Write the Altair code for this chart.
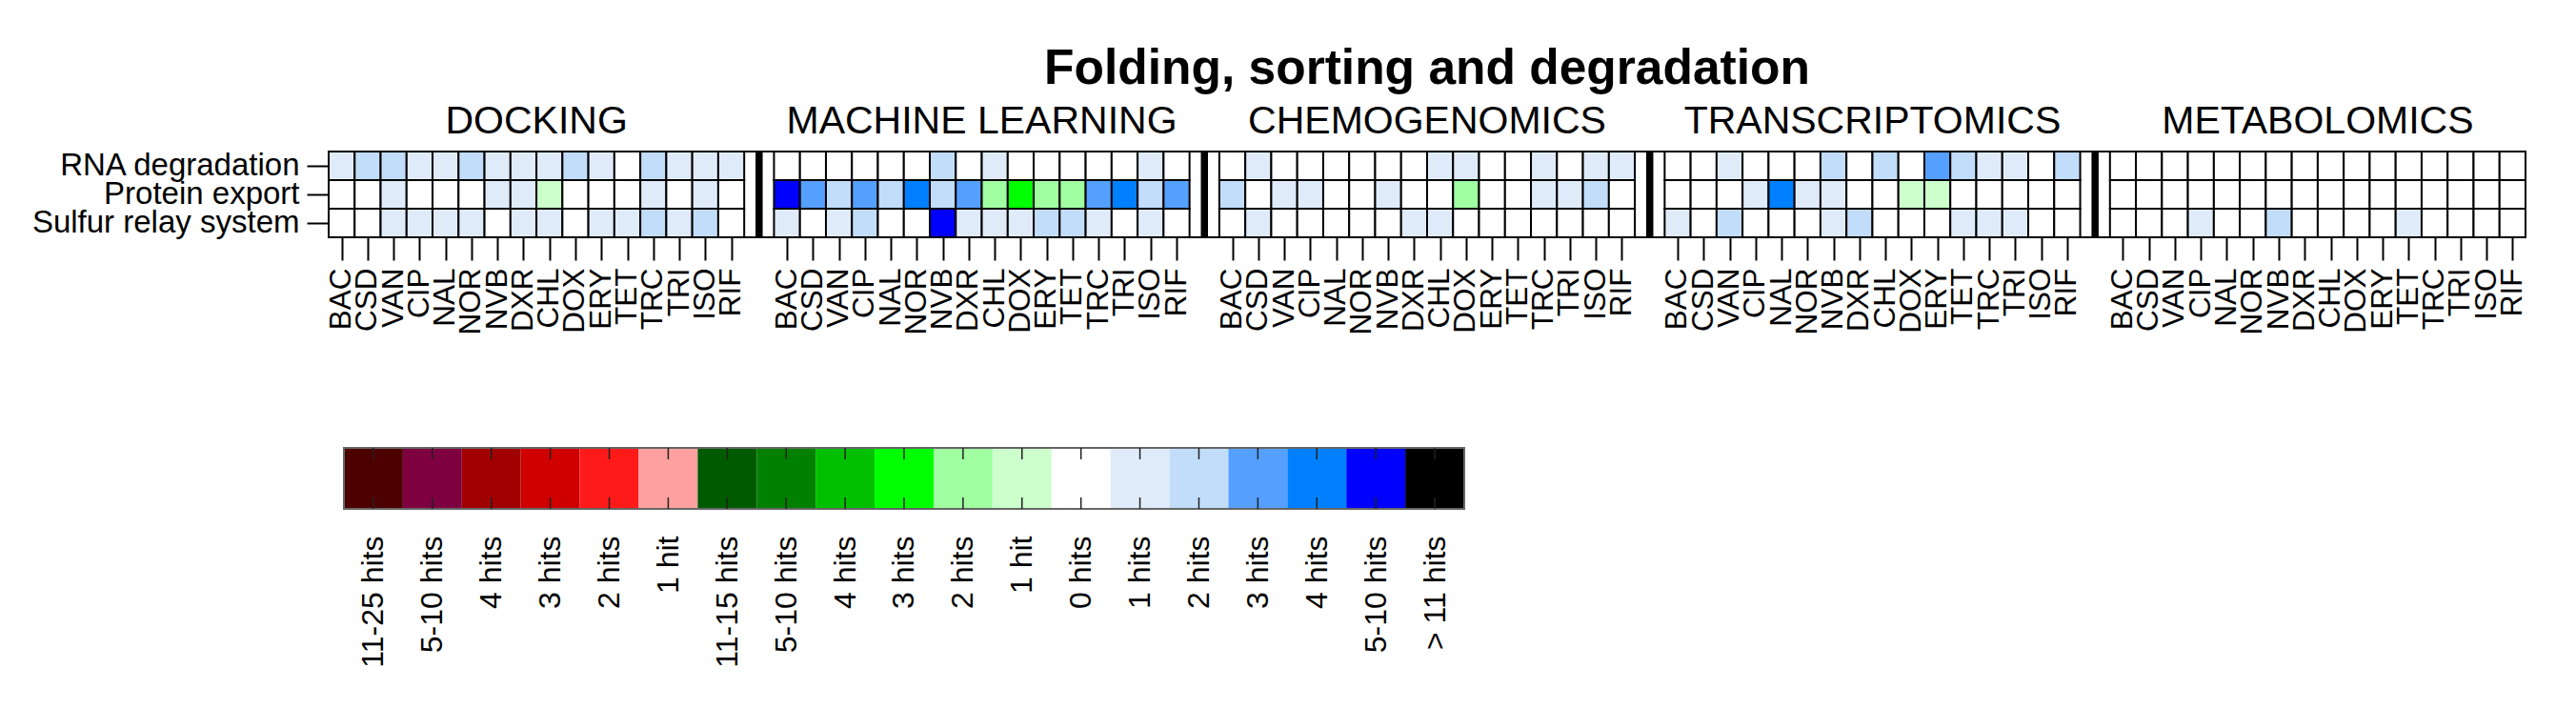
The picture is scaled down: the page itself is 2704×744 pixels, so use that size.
import altair as alt
import pandas as pd

FONT = "Liberation Sans"

drugs = ["BAC", "CSD", "VAN", "CIP", "NAL", "NOR", "NVB", "DXR",
         "CHL", "DOX", "ERY", "TET", "TRC", "TRI", "ISO", "RIF"]
pathways = ["RNA degradation", "Protein export", "Sulfur relay system"]
methods = ["DOCKING", "MACHINE LEARNING", "CHEMOGENOMICS", "TRANSCRIPTOMICS", "METABOLOMICS"]

# legend categories (code, label, colour)
legend_codes = ["R6", "R5", "R4", "R3", "R2", "R1",
                "G6", "G5", "G4", "G3", "G2", "G1",
                "W", "B1", "B2", "B3", "B4", "B5", "K"]
legend_labels = ["11-25 hits", "5-10 hits", "4 hits", "3 hits", "2 hits", "1 hit",
                 "11-15 hits", "5-10 hits", "4 hits", "3 hits", "2 hits", "1 hit",
                 "0 hits", "1 hits", "2 hits", "3 hits", "4 hits", "5-10 hits", "> 11 hits"]
legend_colors = ["#4d0000", "#7f0040", "#a00000", "#d00000", "#ff1a1a", "#ffa0a0",
                 "#005a00", "#008000", "#00c000", "#00ff00", "#a0ffa0", "#ccffcc",
                 "#ffffff", "#e0ebfa", "#c2ddfa", "#55a0ff", "#0080ff", "#0000ff", "#000000"]

# cell codes per method: rows = pathways, columns = drugs
docking = [
    "B1 B2 B2 B1 B1 B2 B1 B1 B1 B2 B1 W B2 B1 B1 B1".split(),
    "W W B1 W W W B1 B1 G1 W W W B1 W B1 W".split(),
    "W W B1 B1 B1 B1 W B1 B1 W B1 B1 B2 B1 B2 W".split(),
]
machine_learning = [
    "W W W W W W B2 W B1 W W W W W B1 W".split(),
    "B5 B3 B2 B3 B2 B4 B2 B3 G2 G3 G2 G2 B3 B4 B2 B3".split(),
    "B1 W B1 B2 W W B5 B1 B1 B1 B2 B2 B1 W B1 W".split(),
]
chemogenomics = [
    "W B1 W W W W W W B1 B1 W W B1 W B1 B1".split(),
    "B2 W B1 B1 W W B1 W W G2 W W B1 B1 B2 W".split(),
    "W B1 W W W W W B1 B1 W W W W W W W".split(),
]
transcriptomics = [
    "W W B1 W W W B2 W B2 W B3 B2 B1 B1 W B2".split(),
    "W W W B1 B4 B1 B1 W W G1 G1 W W W W W".split(),
    "B1 W B2 W W W B1 B2 W W W B1 B1 B1 W W".split(),
]
metabolomics = [
    "W W W W W W W W W W W W W W W W".split(),
    "W W W W W W W W W W W W W W W W".split(),
    "W W W B1 W W B2 W W W W B1 W W W W".split(),
]
panels = [docking, machine_learning, chemogenomics, transcriptomics, metabolomics]

# ---- layout constants ----
GAP = 1.147          # separator column width, in cell units
NC = len(drugs)
STEP = NC + GAP
XMAX = len(methods) * NC + (len(methods) - 1) * GAP

rows = []
for g, method in enumerate(methods):
    for r, pw in enumerate(pathways):
        for c, drug in enumerate(drugs):
            x0 = g * STEP + c
            rows.append({"method": method, "pathway": pw, "drug": drug,
                         "code": panels[g][r][c], "x0": x0, "x1": x0 + 1})
df = pd.DataFrame(rows)

centers = sorted(set((df["x0"] + 0.5).round(4).tolist()))
sep_df = pd.DataFrame({"sx": [g * STEP - GAP / 2 for g in range(1, len(methods))]})
title_df = pd.DataFrame({"method": methods,
                         "tx": [g * STEP + NC / 2 for g in range(len(methods))]})

color_scale = alt.Scale(domain=legend_codes, range=legend_colors)
xscale = alt.Scale(domain=[0, XMAX], nice=False, zero=False)
drug_js = "[" + ",".join("'%s'" % d for d in drugs) + "]"

xaxis = alt.Axis(values=centers,
                 labelExpr=f"{drug_js}[floor(datum.value % {STEP})]",
                 labelAngle=270, labelAlign="right", labelBaseline="middle",
                 labelFontSize=31.5, labelPadding=8, labelColor="black",
                 labelFont=FONT, tickSize=24, tickWidth=2, tickColor="black",
                 domain=False, grid=False, title=None,
                 labelFlush=False, labelOverlap=False)

cells = alt.Chart(df).mark_rect(stroke="black", strokeWidth=2).encode(
    x=alt.X("x0:Q", scale=xscale, axis=xaxis),
    x2="x1:Q",
    y=alt.Y("pathway:N", sort=pathways,
            axis=alt.Axis(title=None, labelFontSize=33, labelFont=FONT, labelColor="black",
                          labelLimit=600, tickSize=23, tickWidth=2, tickColor="black",
                          labelPadding=8, domain=False)),
    color=alt.Color("code:N", scale=color_scale, legend=None),
)

seps = alt.Chart(sep_df).mark_rule(color="black", strokeWidth=7.5).encode(
    x=alt.X("sx:Q", scale=xscale, axis=xaxis)
)

group_titles = alt.Chart(title_df).mark_text(
    fontSize=41, font=FONT, baseline="alphabetic", align="center", color="black"
).encode(
    x=alt.X("tx:Q", scale=xscale, axis=xaxis),
    y=alt.value(-19),
    text="method:N",
)

heat = alt.layer(cells, seps, group_titles).properties(
    width=2306, height=90,
    title=alt.TitleParams("Folding, sorting and degradation", fontSize=51.5,
                          fontWeight="bold", font=FONT, anchor="middle",
                          frame="group", offset=-32, baseline="alphabetic",
                          color="black"),
    view=alt.ViewBackground(stroke="black", strokeWidth=2),
)

# ---- colour bar legend ----
NL = len(legend_codes)
leg_df = pd.DataFrame({"idx": list(range(NL)), "code": legend_codes})
leg_df["idx1"] = leg_df["idx"] + 1
leg_df["mid"] = leg_df["idx"] + 0.5
outline_df = pd.DataFrame({"a": [0], "b": [NL]})

LOFF = 16 / 61.9
lscale = alt.Scale(domain=[-LOFF, NL], nice=False, zero=False)
lab_js = "[" + ",".join("'%s'" % s for s in legend_labels) + "]"

laxis = alt.Axis(values=leg_df["mid"].tolist(),
                 labelExpr=f"{lab_js}[floor(datum.value)]",
                 labelAngle=270, labelAlign="right", labelBaseline="middle",
                 labelFontSize=32, labelFont=FONT, labelColor="black",
                 labelPadding=28, ticks=False, tickSize=0, domain=False,
                 grid=False, title=None, labelFlush=False, labelOverlap=False)

leg_rect = alt.Chart(leg_df).mark_rect().encode(
    x=alt.X("idx:Q", scale=lscale, axis=laxis),
    x2="idx1:Q",
    color=alt.Color("code:N", scale=color_scale, legend=None),
)
leg_outline = alt.Chart(outline_df).mark_rect(
    fillOpacity=0, stroke="#666666", strokeWidth=2
).encode(x=alt.X("a:Q", scale=lscale, axis=laxis), x2="b:Q")
leg_ticks_top = alt.Chart(leg_df).mark_rule(color="#222222", strokeWidth=1.5).encode(
    x=alt.X("mid:Q", scale=lscale, axis=laxis), y=alt.value(0), y2=alt.value(12)
)
leg_ticks_bot = alt.Chart(leg_df).mark_rule(color="#222222", strokeWidth=1.5).encode(
    x=alt.X("mid:Q", scale=lscale, axis=laxis), y=alt.value(52), y2=alt.value(64)
)

legend = alt.layer(leg_rect, leg_outline, leg_ticks_top, leg_ticks_bot).properties(
    width=1176 + 16, height=64,
    view=alt.ViewBackground(stroke="transparent", strokeWidth=0),
)

chart = alt.vconcat(heat, legend, spacing=117).resolve_scale(x="independent").properties(
    padding={"left": 24, "top": 37, "right": 5, "bottom": 5}
).configure(font=FONT, background="white")

chart.save("out.html", embed_options={"renderer": "svg", "actions": False})
